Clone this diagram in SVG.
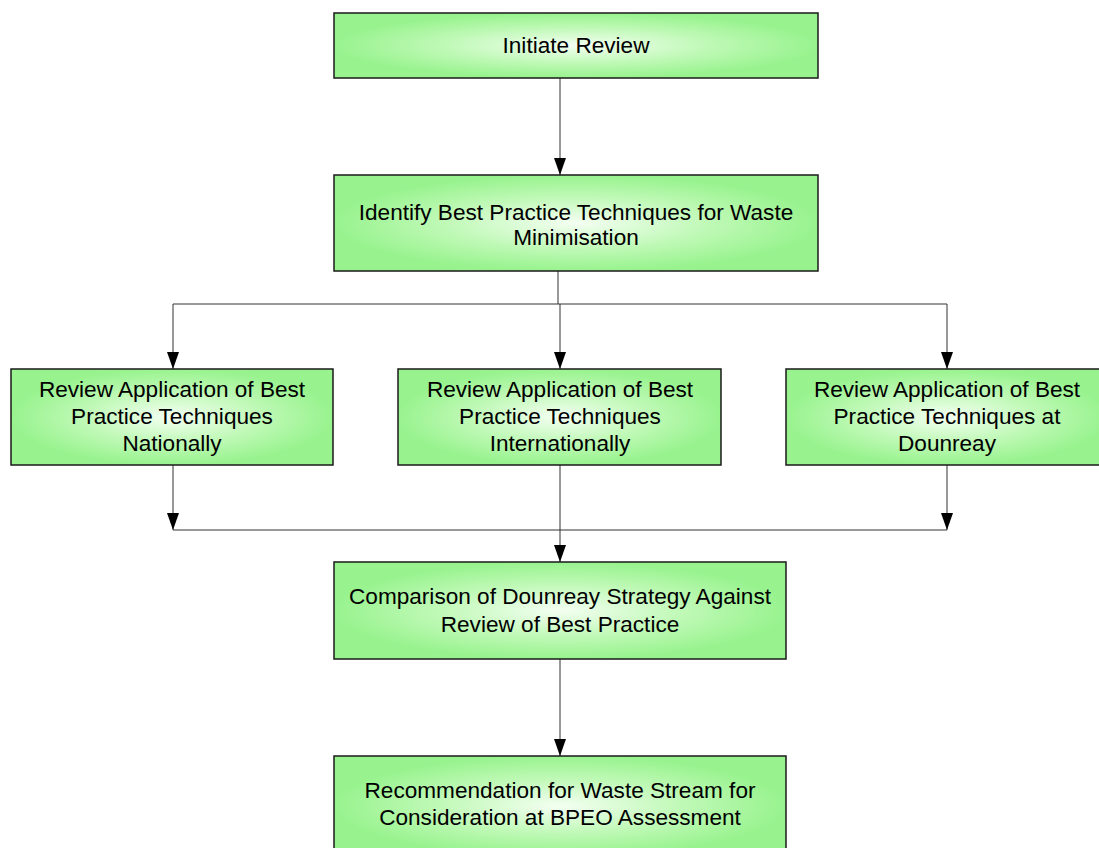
<svg xmlns="http://www.w3.org/2000/svg" width="1099" height="848" viewBox="0 0 1099 848">
<style>
.box{fill:url(#g);stroke:#1a1a1a;stroke-width:1.5}
.t{font-family:"Liberation Sans",Arial,sans-serif;font-size:22.6px;fill:#000;text-anchor:middle}
.c{fill:none;stroke:#333;stroke-width:1}
</style>
<defs>
<radialGradient id="g" cx="0.5" cy="0.5" r="0.5">
<stop offset="0" stop-color="#f4fff2"/>
<stop offset="0.55" stop-color="#bff9b6"/>
<stop offset="1" stop-color="#98f38e"/>
</radialGradient>
<marker id="a" viewBox="0 0 17 12" refX="17" refY="6" markerWidth="17" markerHeight="12" markerUnits="userSpaceOnUse" orient="auto">
<path d="M0,0 L17,6 L0,12 Z" fill="#000"/>
</marker>
</defs>
<g id="connectors">
<path class="c" d="M560,78 V175" marker-end="url(#a)"/>
<path class="c" d="M558,271 V304"/>
<path class="c" d="M173,304 H947"/>
<path class="c" d="M173,304 V369" marker-end="url(#a)"/>
<path class="c" d="M560,304 V369" marker-end="url(#a)"/>
<path class="c" d="M947,304 V369" marker-end="url(#a)"/>
<path class="c" d="M173,465 V530" marker-end="url(#a)"/>
<path class="c" d="M947,465 V530" marker-end="url(#a)"/>
<path class="c" d="M173,530 H947"/>
<path class="c" d="M560,465 V562" marker-end="url(#a)"/>
<path class="c" d="M560,659 V756" marker-end="url(#a)"/>
</g>
<g id="n1"><rect class="box" x="334" y="13" width="484" height="65"/><text class="t" x="576" y="53">Initiate Review</text></g>
<g id="n2"><rect class="box" x="334" y="175" width="484" height="96"/><text class="t" x="576" y="220">Identify Best Practice Techniques for Waste</text><text class="t" x="576" y="245">Minimisation</text></g>
<g id="n3"><rect class="box" x="11" y="369" width="322" height="96"/><text class="t" x="172" y="397">Review Application of Best</text><text class="t" x="172" y="424">Practice Techniques</text><text class="t" x="172" y="451">Nationally</text></g>
<g id="n4"><rect class="box" x="398" y="369" width="323" height="96"/><text class="t" x="560" y="397">Review Application of Best</text><text class="t" x="560" y="424">Practice Techniques</text><text class="t" x="560" y="451">Internationally</text></g>
<g id="n5"><rect class="box" x="786" y="369" width="322" height="96"/><text class="t" x="947" y="397">Review Application of Best</text><text class="t" x="947" y="424">Practice Techniques at</text><text class="t" x="947" y="451">Dounreay</text></g>
<g id="n6"><rect class="box" x="334" y="562" width="452" height="97"/><text class="t" x="560" y="604">Comparison of Dounreay Strategy Against</text><text class="t" x="560" y="632">Review of Best Practice</text></g>
<g id="n7"><rect class="box" x="334" y="756" width="452" height="100"/><text class="t" x="560" y="798">Recommendation for Waste Stream for</text><text class="t" x="560" y="825">Consideration at BPEO Assessment</text></g>
</svg>
